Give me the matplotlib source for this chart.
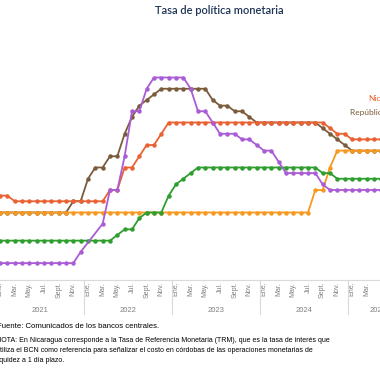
import numpy as np
import pandas as pd
import matplotlib
matplotlib.use("Agg")
import matplotlib.pyplot as plt
import matplotlib.transforms as mtransforms

# ---------------- data ----------------
years = [2021, 2022, 2023, 2024, 2025]
month_names = ["Ene.", "Mar.", "May.", "Jul.", "Sept.", "Nov."]
n_months = 53  # Jan 2021 .. May 2025

nicaragua = ([3.75] * 2 + [3.5] * 13 + [4.0] * 2 + [5.0] * 2 + [5.5] + [6.0] * 2 + [6.5]
             + [7.0] * 22 + [6.75] + [6.5] * 2 + [6.25] * 5)
costa_rica = ([0.75] * 11 + [1.25] + [np.nan] * 2 + [2.5] + [4.0] * 2 + [5.5] + [7.5] * 2 + [8.5]
              + [9.0] * 5 + [8.5] + [7.5] * 2 + [7.0] + [6.5] * 3 + [6.25] * 2 + [6.0]
              + [5.75] * 2 + [5.25] + [4.75] * 5 + [4.25] + [4.0] * 8)
guatemala = ([1.75] * 16 + [2.0] + [2.25] * 2 + [2.75] + [3.0] * 3 + [3.75] + [4.25] + [4.5]
             + [4.75] + [5.0] * 17 + [4.75] * 2 + [4.5] * 7)
honduras = [3.0] * 43 + [4.0] * 2 + [5.0] + [5.75] * 7
rep_dominicana = ([3.0] * 10 + [3.5] * 2 + [4.5] + [5.0] * 2 + [5.5] * 2 + [6.5] + [7.25] + [7.75]
                  + [8.0] + [8.25] + [8.5] * 7 + [8.0] + [7.75] * 2 + [7.5] * 2 + [7.25]
                  + [7.0] * 9 + [6.75] + [6.5] + [6.25] + [6.0] + [5.75] * 5)

series = [
    ("República Dominicana", rep_dominicana, "#7A5C3C"),
    ("Nicaragua", nicaragua, "#EA6233"),
    ("Honduras", honduras, "#F7981F"),
    ("Guatemala", guatemala, "#2E9E2E"),
    ("Costa Rica", costa_rica, "#AA5CD6"),
]

title = "Tasa de política monetaria"
source = "Fuente: Comunicados de los bancos centrales."
note_lines = [
    "NOTA: En Nicaragua corresponde a la Tasa de Referencia Monetaria (TRM), que es la tasa de interés que",
    "utiliza el BCN como referencia para señalizar el costo en córdobas de las operaciones monetarias de",
    "liquidez a 1 día plazo.",
]

# ---------------- figure ----------------
W = H = 380
fig = plt.figure(figsize=(3.8, 3.8), dpi=100)
ax = fig.add_axes([0, 100 / H, 1, 225 / H])

months = np.arange(n_months)
for name, vals, col in series:
    s = pd.Series(vals, index=months, dtype=float).dropna()
    ax.plot(s.index, s.values, color=col, lw=1.3, marker="o", ms=3.2,
            markeredgewidth=0, solid_joinstyle="round")

for sp in ["top", "right", "left"]:
    ax.spines[sp].set_visible(False)
ax.spines["bottom"].set_color("#D9D9D9")
ax.spines["bottom"].set_linewidth(0.8)
ax.set_yticks([])

ticks = []
labels = []
for yi, y in enumerate(years):
    for k, mn in enumerate(month_names):
        m = yi * 12 + 2 * k
        if m <= 52:
            ticks.append(m)
            labels.append(mn)
ax.set_xticks(ticks)
ax.set_xticklabels(labels, rotation=90, fontsize=5, color="#808080",
                   family="Liberation Sans")
ax.tick_params(axis="x", length=0, pad=1.2)

X0, X1 = 0.0, 51.82
ax.set_xlim(X0, X1)
ax.set_ylim(0, 10)

trans = mtransforms.blended_transform_factory(ax.transData, ax.transAxes)
for yi, y in enumerate(years):
    # the last (incomplete) year is centred on the months it spans in the chart
    xc = yi * 12 + 5.5 if yi < len(years) - 1 else yi * 12 + 3.5
    ax.text(xc, (280 - 310) / 225, str(y), transform=trans, ha="center",
            va="center", fontsize=5.5, color="#808080", family="Liberation Sans",
            clip_on=False)
    if yi > 0:
        ax.plot([yi * 12 - 0.5] * 2, [0, (280 - 314) / 225], transform=trans,
                color="#D9D9D9", lw=0.8, clip_on=False)

# right-hand labels (cut by the figure edge)
ax.text(368 / 7.333, (280 - 98) / 22.5, "Nicaragua", color="#EA6233",
        fontsize=6, va="center", ha="left", clip_on=False, family="Lato")
ax.text(350 / 7.333, (280 - 113) / 22.5, "República Dominicana", color="#7A5C3C",
        fontsize=6, va="center", ha="left", clip_on=False, family="Lato")

ax.set_xlim(X0, X1)
ax.set_ylim(0, 10)

fig.text(219 / W, 1 - 11 / H, title, ha="center", va="center", fontsize=8,
         color="#1F3557", family="Lato", fontweight="semibold")

fig.text(-3.5 / W, 1 - 327 / H, source, ha="left", va="center", fontsize=5.6,
         color="#000000", family="Liberation Sans")
for i, line in enumerate(note_lines):
    fig.text(-4 / W, 1 - (341 + 10 * i) / H, line, ha="left", va="center", fontsize=5.0,
             color="#000000", family="Liberation Sans")

fig.savefig("out.png", dpi=100)
